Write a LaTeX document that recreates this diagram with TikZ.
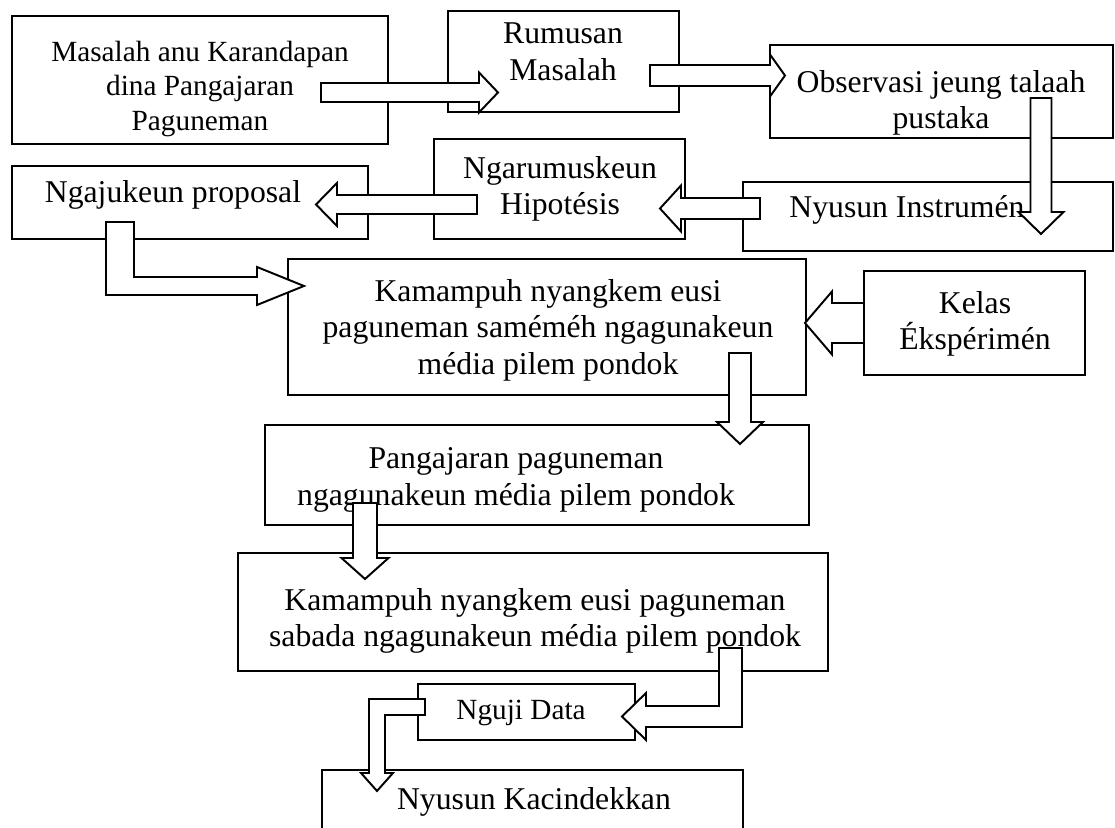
\documentclass[tikz,border=0pt]{standalone}
\usepackage{fontspec}
\setmainfont{Liberation Serif}
\usetikzlibrary{calc,fit}

\tikzset{
  box/.style={draw, line width=0.55pt, inner sep=0pt},
  txt/.style={align=center, inner sep=0pt, font=\fontsize{13}{15}\selectfont},
  smalltxt/.style={txt, font=\fontsize{12}{14}\selectfont},
  arrowshape/.style={draw, fill=white, line width=0.8pt, line join=miter},
}

% straight block arrow: start, tip, shaft half width, head half width, head length (px)
\newcommand{\blockarrow}[5]{%
  \path ($(#2)!#5*0.41pt!(#1)$) coordinate (ab);
  \draw[arrowshape] ($(#1)!#3*0.41pt!90:(#2)$) -- ($(ab)!#3*0.41pt!90:(#2)$)
    -- ($(ab)!#4*0.41pt!90:(#2)$) -- (#2) -- ($(ab)!#4*0.41pt!-90:(#2)$)
    -- ($(ab)!#3*0.41pt!-90:(#2)$) -- ($(#1)!#3*0.41pt!-90:(#2)$) -- cycle;
}

\begin{document}
\begin{tikzpicture}[x=0.41pt, y=-0.41pt]

\useasboundingbox (0,0) rectangle (1115,828);
\clip (0,0) rectangle (1115,828);

% Boxes
\node[box, fit={(12,16) (388,144)}] (mas) {};
\node[box, fit={(448,11) (679,112)}] (rum) {};
\node[box, fit={(770,45) (1113,138)}] (obs) {};
\node[box, fit={(434,139) (685,239)}] (ngar) {};
\node[box, fit={(12,166) (368,239)}] (nga) {};
\node[box, fit={(743,182) (1113,251)}] (nyu) {};
\node[box, fit={(288,259) (806,395)}] (kam1) {};
\node[box, fit={(864,271) (1085,375)}] (kel) {};
\node[box, fit={(265,425) (809,525)}] (pan) {};
\node[box, fit={(238,553) (828,671)}] (kam2) {};
\node[box, fit={(418,684) (635,740)}] (ngu) {};
\node[box, fit={(322,770) (743,850)}] (kac) {};

% Texts
\node[smalltxt] (mas-t) at (200,89) {Masalah anu Karandapan\\dina Pangajaran\\Paguneman};
\node[txt] (rum-t) at (563,52) {Rumusan\\Masalah};
\node[txt] (obs-t) at (941,103) {Observasi jeung talaah\\pustaka};
\node[txt] (ngar-t) at (560,189) {Ngarumuskeun\\Hipotésis};
\node[txt] (nga-t) at (173,195) {Ngajukeun proposal};
\node[txt] (nyu-t) at (907,210) {Nyusun Instrumén};
\node[txt] (kam1-t) at (548,330) {Kamampuh nyangkem eusi\\paguneman saméméh ngagunakeun\\média pilem pondok};
\node[txt] (kel-t) at (975,324) {Kelas\\Ékspérimén};
\node[txt] (pan-t) at (516,480) {Pangajaran paguneman\\ngagunakeun média pilem pondok};
\node[txt] (kam2-t) at (535,621) {Kamampuh nyangkem eusi paguneman\\sabada ngagunakeun média pilem pondok};
\node[smalltxt] (ngu-t) at (521,713) {Nguji Data};
\node[txt] (kac-t) at (534,802) {Nyusun Kacindekkan};

% Arrow ends
\coordinate (a1s) at (321,92.5);  \coordinate (a1t) at (498,92.5);
\coordinate (a2s) at (650,75.5);  \coordinate (a2t) at (785,75.5);
\coordinate (a3s) at (1041,98);   \coordinate (a3t) at (1041,234);
\coordinate (a4s) at (760,208.5); \coordinate (a4t) at (660,208.5);
\coordinate (a5s) at (477,204.5); \coordinate (a5t) at (316,204.5);
\coordinate (a7s) at (864,323);   \coordinate (a7t) at (805,323);
\coordinate (a8s) at (740,353);   \coordinate (a8t) at (740,444);
\coordinate (a9s) at (365,503);   \coordinate (a9t) at (365,579);

% Straight arrows
\blockarrow{a1s}{a1t}{9.5}{20}{19}
\blockarrow{a2s}{a2t}{10.5}{21}{15}
\blockarrow{a3s}{a3t}{10.5}{22.5}{22}
\blockarrow{a4s}{a4t}{10.5}{23}{21}
\blockarrow{a5s}{a5t}{9.5}{21.5}{21}
\blockarrow{a7s}{a7t}{20}{31.5}{27}
\blockarrow{a8s}{a8t}{11}{23}{22}
\blockarrow{a9s}{a9t}{12}{23.5}{21}

% Bent arrows
\draw[arrowshape] (106,222) -- (134,222) -- (134,277) -- (257,277) -- (257,267)
  -- (304,286) -- (257,305) -- (257,295) -- (106,295) -- cycle;
\draw[arrowshape] (719,648) -- (742,648) -- (742,727) -- (646,727) -- (646,740)
  -- (622,716.5) -- (646,693) -- (646,706) -- (719,706) -- cycle;
\draw[arrowshape] (425,699) -- (425,715) -- (385,715) -- (385,773) -- (393,773)
  -- (377,791) -- (361,773) -- (369,773) -- (369,699) -- cycle;

\end{tikzpicture}
\end{document}
